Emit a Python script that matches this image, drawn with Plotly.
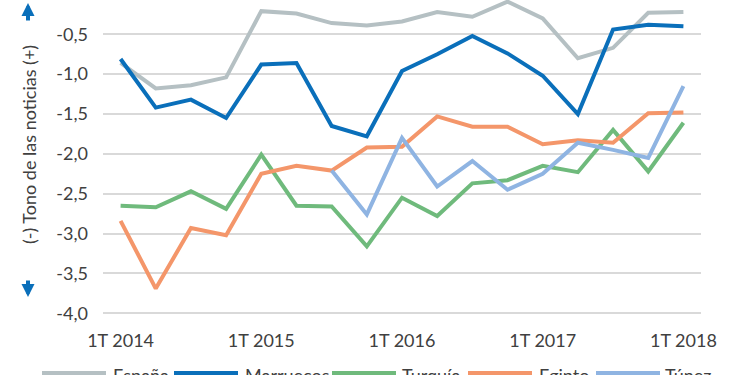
import plotly.graph_objects as go

# ---- data ----
quarters = ["1T 2014", "2T 2014", "3T 2014", "4T 2014",
            "1T 2015", "2T 2015", "3T 2015", "4T 2015",
            "1T 2016", "2T 2016", "3T 2016", "4T 2016",
            "1T 2017", "2T 2017", "3T 2017", "4T 2017",
            "1T 2018"]
espana    = [-0.86, -1.18, -1.14, -1.04, -0.21, -0.24, -0.36, -0.39, -0.34,
             -0.22, -0.28, -0.09, -0.30, -0.80, -0.67, -0.23, -0.22]
marruecos = [-0.81, -1.42, -1.32, -1.55, -0.88, -0.86, -1.65, -1.78, -0.96,
             -0.75, -0.52, -0.74, -1.02, -1.50, -0.44, -0.38, -0.40]
turquia   = [-2.65, -2.67, -2.47, -2.69, -2.01, -2.65, -2.66, -3.16, -2.55,
             -2.78, -2.37, -2.33, -2.15, -2.23, -1.70, -2.22, -1.61]
egipto    = [-2.84, -3.69, -2.93, -3.02, -2.25, -2.15, -2.21, -1.92, -1.91,
             -1.53, -1.66, -1.66, -1.88, -1.83, -1.86, -1.49, -1.48]
tunez     = [None, None, None, None, None, None, -2.21, -2.76, -1.80,
             -2.41, -2.09, -2.45, -2.25, -1.86, -1.95, -2.05, -1.15]

series_names = ["España", "Marruecos", "Turquía", "Egipto", "Túnez"]
series_values = [espana, marruecos, turquia, egipto, tunez]
colors = ["#b5c0c3", "#0a6fba", "#6fba7c", "#f4966a", "#8fb4e2"]

y_ticks = [-4.0, -3.5, -3.0, -2.5, -2.0, -1.5, -1.0, -0.5]
y_ticktext = [f"{v:.1f}".replace(".", ",") for v in y_ticks]

xi = list(range(len(quarters)))
x_tickvals = [i for i, q in enumerate(quarters) if q.startswith("1T")]
x_ticktext = [quarters[i] for i in x_tickvals]
sep_vals = [i - 0.5 for i in x_tickvals]

FONT = "Lato"
TXT = "#404040"
FS = 18

# ---- layout geometry (pixels) ----
W, H = 750, 375
L, R = 103, 701
T, B = 0, 318
PW, PH = R - L, B - T


def px(x):
    return (x - L) / PW


def py(y):
    return (B - y) / PH


fig = go.Figure()
for name, vals, col in zip(series_names, series_values, colors):
    fig.add_trace(go.Scatter(x=xi, y=vals, name=name, mode="lines",
                             line=dict(color=col, width=4),
                             showlegend=False))

# custom legend (long line samples like the original)
legend_line_x = [42, 174, 332, 468, 596]
legend_text_x = [111, 243, 400, 537, 663]
shapes = []
annotations = []
for name, col, lx, tx in zip(series_names, colors, legend_line_x, legend_text_x):
    shapes.append(dict(type="line", xref="paper", yref="paper",
                       x0=px(lx), x1=px(lx + 64), y0=py(373), y1=py(373),
                       line=dict(color=col, width=4)))
    annotations.append(dict(text=name, xref="paper", yref="paper",
                            x=px(tx), y=py(375), xanchor="left", yanchor="middle",
                            showarrow=False, font=dict(family=FONT, size=FS, color=TXT)))

# partially visible top tick label
annotations.append(dict(text="0,0", xref="paper", yref="y", x=px(85), y=0,
                        xanchor="right", yanchor="middle", showarrow=False,
                        font=dict(family=FONT, size=FS, color=TXT)))

# y title
annotations.append(dict(text="(-) Tono de las noticias (+)", xref="paper", yref="paper",
                        x=px(29), y=py(145), textangle=-90, showarrow=False,
                        xanchor="center", yanchor="middle",
                        font=dict(family=FONT, size=FS, color=TXT)))

# arrows
annotations.append(dict(text="", xref="paper", yref="paper", x=px(28), y=py(3),
                        ax=0, ay=19, showarrow=True, arrowhead=2, arrowsize=0.65,
                        arrowwidth=4, arrowcolor="#0a6fba"))
annotations.append(dict(text="", xref="paper", yref="paper", x=px(28), y=py(297),
                        ax=0, ay=-18, showarrow=True, arrowhead=2, arrowsize=0.65,
                        arrowwidth=4, arrowcolor="#0a6fba"))

fig.update_layout(
    template="none",
    width=W, height=H,
    margin=dict(l=L, r=W - R, t=T, b=H - B, autoexpand=False),
    paper_bgcolor="white", plot_bgcolor="white",
    font=dict(family=FONT, size=FS, color=TXT),
    showlegend=False,
    shapes=shapes, annotations=annotations,
    xaxis=dict(range=[-0.5, len(quarters) - 0.5],
               tickvals=x_tickvals, ticktext=x_ticktext,
               showgrid=False, zeroline=False, showline=False, ticks="",
               ticklabelstandoff=10,
               tickfont=dict(family=FONT, size=FS, color=TXT)),
    xaxis2=dict(range=[-0.5, len(quarters) - 0.5], overlaying="x", anchor="y",
                side="top", tickvals=sep_vals, ticks="inside", ticklen=4,
                tickwidth=1, tickcolor="#595959", showticklabels=False,
                showgrid=False, zeroline=False, showline=False),
    yaxis=dict(range=[-4.059, -0.07], tickvals=y_ticks, ticktext=y_ticktext,
               showgrid=True, gridcolor="#d9d9d9", gridwidth=2,
               zeroline=False, showline=False, ticks="",
               ticklabelstandoff=14,
               tickfont=dict(family=FONT, size=FS, color=TXT)),
)

fig.write_html(
    "out.html",
    config={"displayModeBar": False},
    post_script="document.body.style.margin='0';document.body.style.overflow='hidden';",
)
